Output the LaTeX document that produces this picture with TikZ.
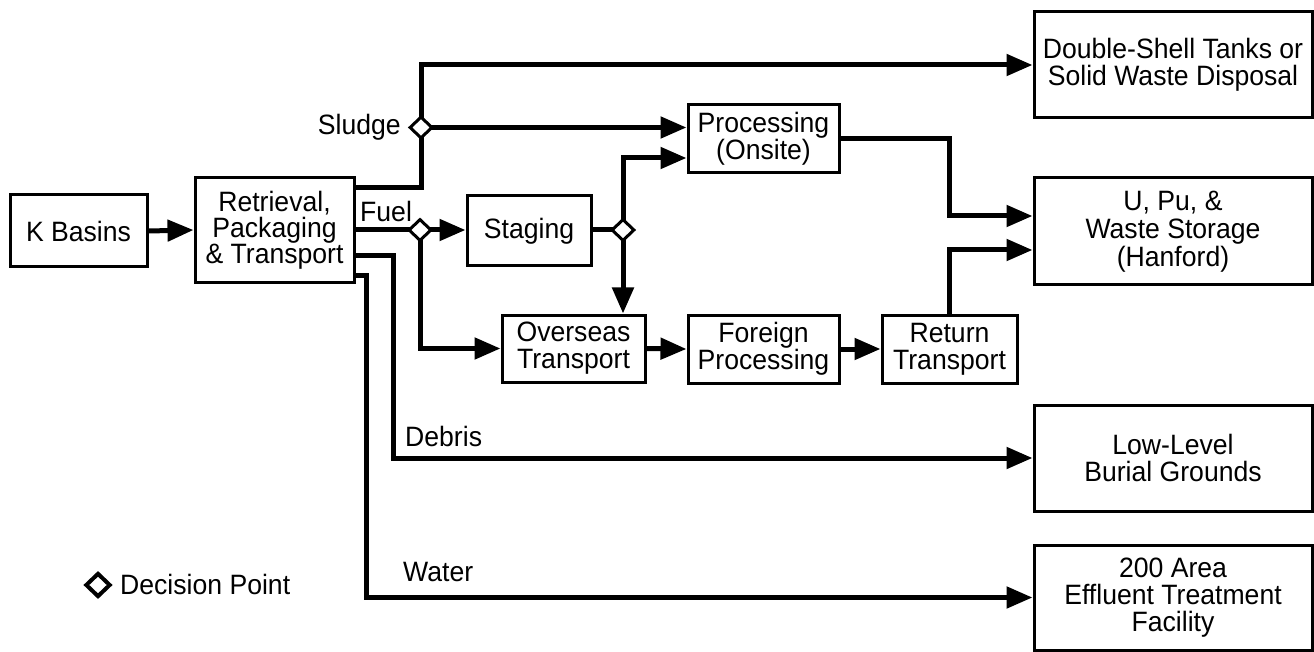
\documentclass[tikz,border=0pt]{standalone}
\usepackage{fontspec}
\setmainfont{Liberation Sans}[FakeStretch=0.95]
\usetikzlibrary{shapes.geometric,arrows.meta,calc}
\begin{document}
\begin{tikzpicture}[x=1pt,y=-1pt,
  box/.style={draw, line width=3pt, align=center, inner sep=0pt,
    font=\fontsize{28}{27}\selectfont},
  dec/.style={draw, diamond, fill=white, line width=3pt, inner sep=0pt,
    minimum width=23pt, minimum height=22pt},
  lbl/.style={inner sep=0pt, font=\fontsize{28}{27}\selectfont},
  conn/.style={line width=5pt, line join=miter},
  arr/.style={conn, -{Triangle[length=26pt,width=21pt]}}
]
\useasboundingbox (0,0) rectangle (1314,652);
% boxes
\node[box, minimum width=137pt, minimum height=72pt] (kb) at (78.5,231) {K Basins};
\node[box, minimum width=159pt, minimum height=105pt, font=\fontsize{28}{26}\selectfont] (ret) at (274.5,230) {Retrieval,\\Packaging\\\& Transport};
\node[box, minimum width=124pt, minimum height=70pt] (stg) at (529,231) {Staging};
\node[box, minimum width=151pt, minimum height=68pt] (proc) at (763.5,139) {Processing\\(Onsite)};
\node[box, minimum width=278pt, minimum height=106pt] (dst) at (1173,65) {Double-Shell Tanks or\\Solid Waste Disposal};
\node[box, minimum width=278pt, minimum height=107pt, font=\fontsize{28}{28}\selectfont] (upu) at (1173,231.5) {U, Pu, \&\\Waste Storage\\(Hanford)};
\node[box, minimum width=143pt, minimum height=67pt] (ovs) at (573.5,348.5) {Overseas\\Transport};
\node[box, minimum width=151pt, minimum height=68pt] (frn) at (763.5,349) {Foreign\\Processing};
\node[box, minimum width=135pt, minimum height=68pt] (rtn) at (949.5,349) {Return\\Transport};
\node[box, minimum width=278pt, minimum height=106pt] (llb) at (1173,458) {Low-Level\\Burial Grounds};
\node[box, minimum width=278pt, minimum height=105pt] (eff) at (1173,597.5) {200 Area\\Effluent Treatment\\Facility};
% helper coordinates
\coordinate (sl) at (421,188);
\coordinate (deb) at (393,256);
\coordinate (wat) at (366,276);
\coordinate (upA) at (1034,216);
\coordinate (upB) at (1034,250);
\coordinate (prB) at (688,158);
\path (421,127.5) coordinate (d1c) (420,230) coordinate (d2c) (623,230) coordinate (d3c);
% connectors
\draw[arr] (kb.east) -- (ret.west);
\draw[conn] (ret.east |- sl) -- (sl) -- (d1c);
\draw[arr] (d1c) |- (dst.west);
\draw[arr] (d1c) -- (proc.west |- d1c);
\draw[conn] (ret.east |- d2c) -- (d2c);
\draw[arr] (d2c) -- (stg.west |- d2c);
\draw[arr] (d2c) |- (ovs.west);
\draw[conn] (stg.east |- d3c) -- (d3c);
\draw[arr] (d3c) |- (proc.west |- prB);
\draw[arr] (d3c) -- (d3c |- ovs.north);
\draw[arr] (ovs.east) -- (frn.west);
\draw[arr] (frn.east) -- (rtn.west);
\draw[arr] (proc.east) -| (rtn.north |- upA) -- (upu.west |- upA);
\draw[arr] (rtn.north) |- (upu.west |- upB);
\draw[arr] (ret.east |- deb) -- (deb) |- (llb.west);
\draw[arr] (ret.east |- wat) -- (wat) |- (eff.west);
% diamonds
\node[dec] (d1) at (d1c) {};
\node[dec] (d2) at (d2c) {};
\node[dec] (d3) at (d3c) {};
% labels
\node[lbl, anchor=east] (lsl) at ([xshift=-7pt]d1.west) {Sludge};
\node[lbl, anchor=base west] (lfu) at (360,222) {Fuel};
\node[lbl, anchor=base west] (lde) at (405,446) {Debris};
\node[lbl, anchor=base west] (lwa) at (403,581) {Water};
% legend
\node[draw, diamond, line width=4pt, inner sep=0pt, minimum width=25pt, minimum height=24pt] (leg) at (98,585) {};
\node[lbl, anchor=base west] (legt) at (120,594) {Decision Point};
\end{tikzpicture}
\end{document}
